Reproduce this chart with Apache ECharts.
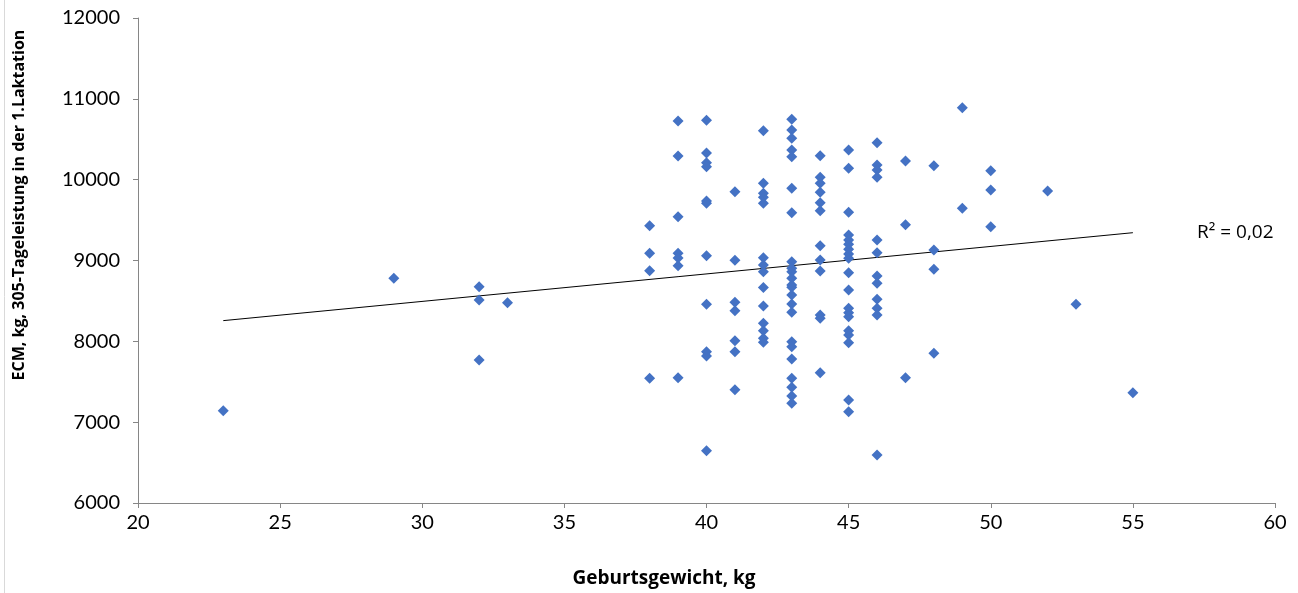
<!DOCTYPE html>
<html>
<head>
<meta charset="utf-8">
<script src="https://cdn.jsdelivr.net/npm/echarts@6/dist/echarts.min.js"></script>
<style>html,body{margin:0;padding:0;background:#fff}#c{width:1298px;height:593px}</style>
</head>
<body>
<div id="c"></div>
<script>
// Birth weight (kg) and ECM 305-day yield (kg)
const weights = [
  23,29,32,32,32,33,
  38,38,38,38,
  39,39,39,39,39,39,39,
  40,40,40,40,40,40,40,40,40,40,40,
  41,41,41,41,41,41,41,
  42,42,42,42,42,42,42,42,42,42,42,42,42,42,
  43,43,43,43,43,43,43,43,43,43,43,43,43,43,43,43,43,43,43,43,43,43,43,
  44,44,44,44,44,44,44,44,44,44,44,44,
  45,45,45,45,45,45,45,45,45,45,45,45,45,45,45,45,45,45,45,
  46,46,46,46,46,46,46,46,46,46,46,46,
  47,47,47,
  48,48,48,48,
  49,49,
  50,50,50,
  52,53,55
];
const ecm = [
  7140,8780,8676,8511,7769,8478,
  9430,9089,8874,7542,
  10726,10293,9542,9089,9030,8935,7550,
  10734,10330,10210,10160,9736,9707,9059,8458,7871,7818,6647,
  9851,9002,8483,8379,8008,7871,7401,
  10606,9955,9831,9782,9707,9034,8944,8861,8666,8437,8223,8131,8037,7988,
  10747,10614,10512,10367,10284,9893,9591,8985,8903,8861,8780,8697,8668,8573,8462,8359,7995,7933,7781,7542,7431,7323,7233,
  10296,10029,9955,9844,9715,9616,9183,9006,8870,8326,8285,7612,
  10367,10141,9596,9315,9253,9200,9138,9080,9027,8849,8635,8408,8354,8305,8131,8078,7983,7274,7129,
  10457,10181,10119,10029,9253,9096,8808,8718,8520,8408,8326,6594,
  10231,9443,7550,
  10173,9130,8891,7852,
  10890,9646,
  10111,9872,9418,
  9860,8458,7364
];
// linear trend line endpoints (x, y)
const trendX = [23, 55];
const trendY = [8256, 9344];
const xTicks = [20,25,30,35,40,45,50,55,60];
const yTicks = [6000,7000,8000,9000,10000,11000,12000];
const r2Label = 'R² = 0,02';

const points = weights.map((w, i) => [w, ecm[i]]);
const trend = trendX.map((x, i) => [x, trendY[i]]);

const chart = echarts.init(document.getElementById('c'));
const font = 'Lato, "Open Sans", sans-serif';
const tfont = '"Open Sans", "Noto Sans", sans-serif';
chart.setOption({
  animation: false,
  grid: {left: 138, right: 23, top: 18, bottom: 90},
  xAxis: {
    type: 'value', min: xTicks[0], max: xTicks[xTicks.length-1], interval: 5,
    axisLine: {show: true, onZero: false, lineStyle: {color: '#868686', width: 1}},
    axisTick: {show: true, length: 5, lineStyle: {color: '#868686'}},
    axisLabel: {color: '#000', fontSize: 20, fontFamily: font, margin: 10, formatter: v => String(v)},
    splitLine: {show: false}
  },
  yAxis: {
    type: 'value', min: yTicks[0], max: yTicks[yTicks.length-1], interval: 1000,
    axisLine: {show: true, lineStyle: {color: '#868686', width: 1}},
    axisTick: {show: true, length: 5, lineStyle: {color: '#868686'}},
    axisLabel: {color: '#000', fontSize: 20, fontFamily: font, margin: 18, formatter: v => String(v)},
    splitLine: {show: false}
  },
  series: [
    {
      type: 'line', data: trend, symbol: 'none', silent: true,
      lineStyle: {color: '#000', width: 1}, z: 1
    },
    {
      type: 'scatter', data: points, symbol: 'diamond', symbolSize: 11,
      itemStyle: {color: '#4472C4', opacity: 1}, z: 2
    }
  ],
  graphic: [
    {type: 'line', shape: {x1: 4.5, y1: 0, x2: 4.5, y2: 593}, style: {stroke: '#d9d9d9', lineWidth: 1}},
    {type: 'text', x: 19, y: 205, rotation: Math.PI/2,
     style: {text: 'ECM, kg, 305-Tageleistung in der 1.Laktation', font: 'bold 16px ' + tfont, fill: '#000', textAlign: 'center', textVerticalAlign: 'middle'}},
    {type: 'text', x: 664, y: 579,
     style: {text: 'Geburtsgewicht, kg', font: 'bold 19px ' + tfont, fill: '#000', textAlign: 'center', textVerticalAlign: 'middle'}},
    {type: 'text', x: 1197, y: 233,
     style: {text: r2Label, font: '19px ' + tfont, fill: '#000', textAlign: 'left', textVerticalAlign: 'middle'}}
  ]
});
</script>
</body>
</html>
